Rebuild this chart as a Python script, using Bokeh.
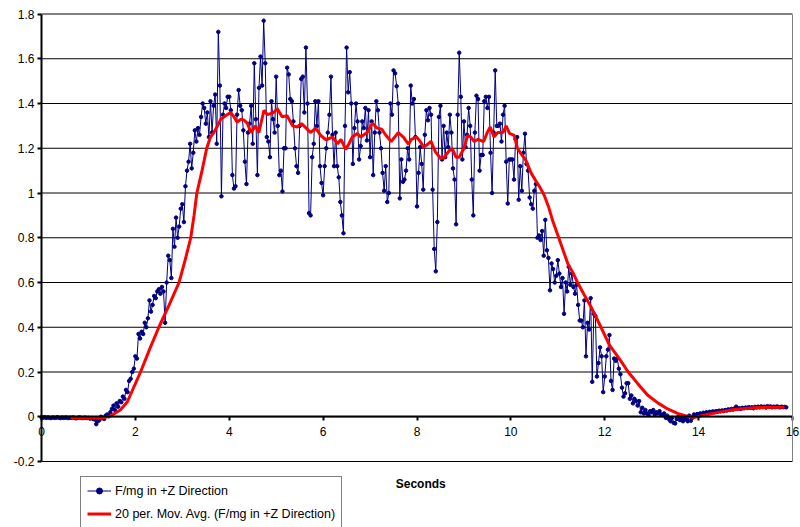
from bokeh.plotting import figure
from bokeh.models import FixedTicker, Legend, LegendItem, Label, LinearAxis
from bokeh.embed import file_html
from bokeh.resources import INLINE

# ---------------- data ----------------
sample_interval = 1.0 / 30.0  # seconds between samples

force_z = [
    -0.003, -0.004, -0.002, -0.005, -0.003, -0.004, -0.006, -0.003, -0.004, -0.005, -0.002, -0.004, -0.006, -0.003, -0.005,
    -0.004, -0.003, -0.006, -0.004, -0.005, -0.003, -0.004, -0.007, -0.005, -0.003, -0.004, -0.006, -0.005, -0.004, -0.006,
    -0.005, -0.008, -0.006, -0.010, -0.012, -0.033, -0.020, -0.015, 0.000, -0.005, -0.010, 0.005, 0.010, 0.002, 0.020,
    0.035, 0.050, 0.030, 0.060, 0.045, 0.070, 0.065, 0.090, 0.080, 0.120, 0.110, 0.160, 0.170, 0.200, 0.215,
    0.270, 0.260, 0.370, 0.350, 0.380, 0.370, 0.420, 0.400, 0.440, 0.520, 0.470, 0.500, 0.540, 0.530, 0.560,
    0.570, 0.550, 0.580, 0.560, 0.420, 0.600, 0.720, 0.700, 0.620, 0.840, 0.760, 0.890, 0.800, 0.850, 0.930,
    0.950, 0.870, 1.030, 1.100, 1.140, 1.220, 1.110, 1.180, 1.280, 1.230, 1.290, 1.260, 1.340, 1.400, 1.380,
    1.310, 1.360, 1.250, 1.410, 1.270, 1.390, 1.440, 1.220, 1.720, 1.480, 0.985, 1.350, 1.400, 1.380, 1.430,
    1.430, 1.370, 1.080, 1.020, 1.030, 1.350, 1.460, 1.390, 1.370, 1.280, 1.140, 1.040, 1.270, 1.310, 1.390,
    1.220, 1.580, 1.330, 1.080, 1.470, 1.610, 1.480, 1.770, 1.580, 1.250, 1.230, 1.160, 1.410, 1.330, 1.270,
    1.520, 1.300, 1.080, 1.100, 1.007, 1.200, 1.200, 1.560, 1.530, 1.420, 1.410, 1.320, 1.200, 1.120, 1.090,
    1.300, 1.510, 1.520, 1.360, 1.650, 1.400, 0.910, 0.900, 1.160, 1.220, 1.410, 1.300, 1.410, 1.120, 1.045,
    0.990, 1.120, 1.200, 1.270, 1.350, 1.520, 1.260, 1.120, 1.270, 1.120, 1.070, 0.960, 0.900, 0.820, 1.300,
    1.650, 1.450, 1.540, 1.400, 1.130, 1.290, 1.400, 1.320, 1.150, 1.210, 1.320, 1.290, 1.380, 1.235, 1.370,
    1.160, 1.320, 1.080, 1.270, 1.410, 1.370, 1.270, 1.200, 1.090, 1.010, 1.120, 0.960, 1.000, 1.400, 1.350,
    1.548, 1.535, 1.477, 1.400, 0.976, 1.150, 1.050, 1.060, 1.100, 1.200, 1.150, 1.480, 1.400, 1.420, 1.250,
    0.940, 1.090, 1.205, 1.130, 1.015, 1.260, 1.370, 1.325, 1.380, 1.350, 1.015, 0.750, 0.650, 0.870, 1.340,
    1.390, 1.150, 1.300, 1.160, 1.270, 1.205, 1.350, 1.270, 1.110, 1.060, 0.860, 1.350, 1.627, 1.430, 1.150,
    1.320, 1.205, 1.260, 1.380, 1.300, 1.060, 0.900, 1.270, 1.435, 1.420, 1.100, 1.170, 1.170, 1.410, 1.430,
    1.380, 1.430, 1.180, 1.000, 1.270, 1.548, 1.300, 1.300, 1.310, 1.230, 1.350, 1.390, 1.140, 0.953, 1.150,
    1.150, 1.150, 1.060, 1.240, 1.250, 0.970, 1.120, 1.010, 1.180, 1.265, 1.130, 1.100, 0.980, 0.950, 0.930,
    1.010, 1.040, 0.800, 0.810, 0.790, 0.830, 0.720, 0.880, 0.744, 0.710, 0.565, 0.685, 0.660, 0.600, 0.630,
    0.700, 0.640, 0.580, 0.620, 0.460, 0.600, 0.560, 0.670, 0.590, 0.640, 0.580, 0.550, 0.590, 0.500, 0.430,
    0.430, 0.400, 0.520, 0.270, 0.420, 0.390, 0.530, 0.156, 0.460, 0.450, 0.180, 0.240, 0.310, 0.270, 0.110,
    0.180, 0.270, 0.300, 0.365, 0.160, 0.120, 0.260, 0.250, 0.260, 0.215, 0.190, 0.130, 0.090, 0.105, 0.150,
    0.150, 0.080, 0.095, 0.060, 0.080, 0.070, 0.050, 0.070, 0.020, 0.040, 0.015, 0.030, 0.015, 0.008, 0.025,
    0.020, 0.030, 0.010, 0.020, 0.015, 0.025, 0.010, 0.008, 0.015, -0.005, 0.005, -0.010, -0.020, -0.005, -0.027,
    -0.030, -0.010, 0.000, -0.015, -0.005, -0.020, 0.000, -0.010, -0.020, 0.005, -0.018, -0.005, 0.010, 0.005, 0.012,
    0.010, 0.015, 0.012, 0.018, 0.014, 0.020, 0.016, 0.022, 0.018, 0.024, 0.020, 0.025, 0.022, 0.027, 0.025,
    0.028, 0.026, 0.030, 0.028, 0.033, 0.030, 0.035, 0.032, 0.037, 0.045, 0.036, 0.038, 0.035, 0.040, 0.038,
    0.041, 0.039, 0.043, 0.040, 0.042, 0.038, 0.044, 0.041, 0.045, 0.042, 0.046, 0.043, 0.045, 0.041, 0.047,
    0.044, 0.046, 0.042, 0.045, 0.043, 0.046, 0.044, 0.042, 0.045, 0.043, 0.044, 0.042,
]
time_s = [i * sample_interval for i in range(len(force_z))]

ma_time = [
    0.62, 1.0, 1.3, 1.47, 1.68, 1.83, 1.97, 2.11, 2.3, 2.5, 2.72, 2.93, 3.06, 3.18, 3.25, 3.31, 3.42, 3.52,
    3.6, 3.67, 3.75, 3.82, 3.92, 4.03, 4.1, 4.17, 4.25, 4.32, 4.39, 4.46, 4.56, 4.63, 4.74, 4.81, 4.88, 4.95,
    5.02, 5.13, 5.23, 5.35, 5.45, 5.54, 5.64, 5.73, 5.84, 5.95, 6.06, 6.2, 6.31, 6.38, 6.48, 6.55, 6.62, 6.73,
    6.8, 6.87, 6.94, 7.05, 7.15, 7.25, 7.34, 7.45, 7.6, 7.71, 7.82, 7.88, 7.99, 8.07, 8.14, 8.21, 8.3, 8.39,
    8.51, 8.58, 8.69, 8.76, 8.83, 8.9, 9.0, 9.08, 9.15, 9.22, 9.3, 9.42, 9.5, 9.56, 9.64, 9.72, 9.83, 9.9,
    9.97, 10.07, 10.14, 10.2, 10.32, 10.43, 10.53, 10.62, 10.71, 10.8, 10.9, 11.02, 11.12, 11.22, 11.32, 11.42,
    11.55, 11.71, 11.92, 12.1, 12.31, 12.5, 12.7, 12.91, 13.13, 13.34, 13.55, 13.75, 13.9, 14.02, 14.3, 14.76,
    15.26, 15.83,
]
ma_value = [
    -0.005, -0.006, -0.006, 0.003, 0.03, 0.067, 0.134, 0.2, 0.3, 0.4, 0.5, 0.6, 0.7, 0.8, 0.9, 1.0, 1.1, 1.2,
    1.25, 1.27, 1.3, 1.33, 1.345, 1.36, 1.34, 1.317, 1.33, 1.325, 1.31, 1.27, 1.30, 1.27, 1.37, 1.35, 1.355, 1.36,
    1.377, 1.34, 1.346, 1.30, 1.295, 1.31, 1.29, 1.27, 1.29, 1.257, 1.238, 1.25, 1.22, 1.24, 1.195, 1.22, 1.25, 1.266,
    1.25, 1.26, 1.272, 1.312, 1.29, 1.285, 1.257, 1.23, 1.27, 1.25, 1.217, 1.24, 1.25, 1.23, 1.205, 1.215, 1.23, 1.185,
    1.153, 1.16, 1.19, 1.195, 1.16, 1.16, 1.2, 1.257, 1.25, 1.23, 1.24, 1.23, 1.272, 1.295, 1.25, 1.27, 1.27, 1.3,
    1.266, 1.257, 1.2, 1.18, 1.146, 1.09, 1.055, 1.025, 0.99, 0.94, 0.87, 0.8, 0.74, 0.68, 0.645, 0.6,
    0.55, 0.49, 0.4, 0.32, 0.26, 0.2, 0.149, 0.097, 0.062, 0.035, 0.015, 0.003, -0.003, 0.002, 0.015, 0.032,
    0.041, 0.042,
]

x_ticks = [0, 2, 4, 6, 8, 10, 12, 14, 16]
y_ticks = [-0.2, 0.0, 0.2, 0.4, 0.6, 0.8, 1.0, 1.2, 1.4, 1.6, 1.8]
y_tick_labels = ["-0.2", "0", "0.2", "0.4", "0.6", "0.8", "1", "1.2", "1.4", "1.6", "1.8"]

series_label = "F/mg in +Z Direction"
ma_label = "20 per. Mov. Avg. (F/mg in +Z Direction)"
x_title = "Seconds"

# ---------------- layout (the frame covers the whole canvas) ----------------
FONT = "Liberation Sans"
W, H = 800, 527
AREA_L, AREA_R, AREA_T, AREA_B = 41, 792, 13.5, 461   # plot-area edges in pixels
X_MIN, X_MAX = x_ticks[0], x_ticks[-1]
Y_MIN, Y_MAX = y_ticks[0], y_ticks[-1]
ppx = (AREA_R - AREA_L) / (X_MAX - X_MIN)
ppy = (AREA_B - AREA_T) / (Y_MAX - Y_MIN)
x_range = (X_MIN - AREA_L / ppx, X_MAX + (W - AREA_R) / ppx)
y_range = (Y_MIN - (H - AREA_B) / ppy, Y_MAX + AREA_T / ppy)

p = figure(width=W, height=H, x_range=x_range, y_range=y_range,
           output_backend="svg", toolbar_location=None)
p.min_border = 0
p.min_border_left = 0
p.min_border_right = 0
p.min_border_top = 0
p.min_border_bottom = 0
p.background_fill_color = "white"
p.border_fill_color = "white"
p.outline_line_color = None
p.xgrid.visible = False
p.ygrid.visible = False

# horizontal gridlines across the plot area, one per y tick
p.segment(x0=[X_MIN] * len(y_ticks), x1=[X_MAX] * len(y_ticks), y0=y_ticks, y1=y_ticks,
          line_color="black", line_width=1)

# y axis at x = 0
ya = p.yaxis[0]
ya.fixed_location = 0
ya.bounds = (Y_MIN, Y_MAX)
ya.ticker = FixedTicker(ticks=y_ticks)
ya.major_label_overrides = {v: s for v, s in zip(y_ticks, y_tick_labels)}
ya.axis_line_color = "black"
ya.axis_line_width = 2
ya.major_tick_line_color = "black"
ya.major_tick_line_width = 2
ya.major_tick_out = 4
ya.major_tick_in = 0
ya.minor_tick_line_color = None
ya.major_label_standoff = 3
ya.major_label_text_font = FONT
ya.major_label_text_font_size = "12px"
ya.major_label_text_color = "black"

# right border of the plot area (x = 16)
rb = LinearAxis(fixed_location=X_MAX, bounds=(Y_MIN, Y_MAX), ticker=FixedTicker(ticks=[]),
                axis_line_color="#808080", axis_line_width=1,
                major_tick_line_color=None, minor_tick_line_color=None,
                major_label_text_font_size="0px")
p.add_layout(rb, "right")

# x axis at y = 0
xa = p.xaxis[0]
xa.fixed_location = 0
xa.bounds = (X_MIN, X_MAX)
xa.ticker = FixedTicker(ticks=x_ticks)
xa.axis_line_color = "black"
xa.axis_line_width = 2
xa.major_tick_line_color = "black"
xa.major_tick_line_width = 2
xa.major_tick_out = 4
xa.major_tick_in = 0
xa.minor_tick_line_color = None
xa.major_label_standoff = 6
xa.major_label_text_font = FONT
xa.major_label_text_font_size = "12px"
xa.major_label_text_color = "black"

# series
line_r = p.line(time_s, force_z, line_color="#000080", line_width=1)
dot_r = p.scatter(time_s, force_z, marker="circle", size=3.5,
                  fill_color="#000080", line_color="#000080")
ma_r = p.line(ma_time, ma_value, line_color="#FF0000", line_width=3)

# x title below the plot area
p.add_layout(Label(x=(X_MIN + X_MAX) / 2 + 0.08, y=44, x_units="data", y_units="screen",
                   text=x_title, text_align="center", text_baseline="middle",
                   text_font=FONT, text_font_size="12px", text_font_style="bold",
                   text_color="black"))

legend = Legend(items=[LegendItem(label=series_label, renderers=[line_r, dot_r]),
                       LegendItem(label=ma_label, renderers=[ma_r])],
                location=(80, -1), orientation="vertical")
legend.border_line_color = "black"
legend.border_line_width = 1
legend.background_fill_color = "white"
legend.background_fill_alpha = 1
legend.padding = 6
legend.spacing = 8
legend.margin = 0
legend.label_height = 15
legend.glyph_height = 15
legend.glyph_width = 24
legend.label_standoff = 4
legend.label_text_font = FONT
legend.label_text_font_size = "12.5px"
legend.label_text_color = "black"
p.add_layout(legend)

open("out.html", "w").write(file_html(p, INLINE))
